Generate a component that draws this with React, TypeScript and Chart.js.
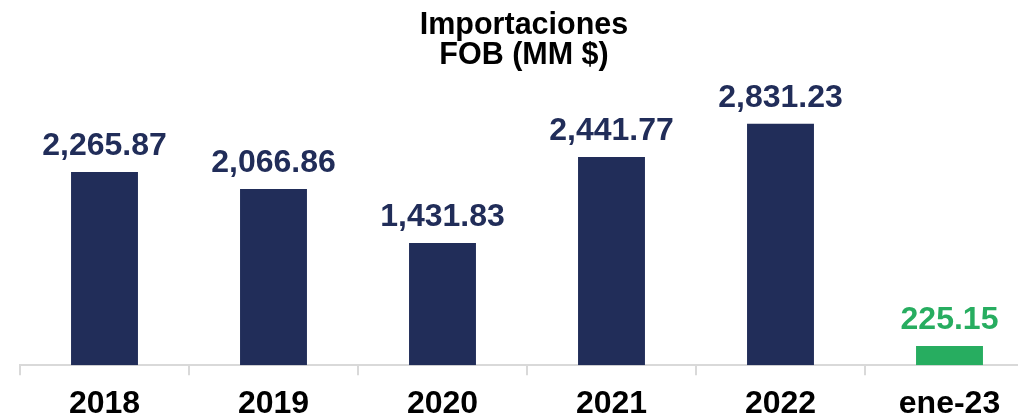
import React, { useEffect, useRef } from "react";
import { Chart, registerables } from "chart.js";

Chart.register(...registerables);

const categories = ["2018", "2019", "2020", "2021", "2022", "ene-23"];
const values = [2265.87, 2066.86, 1431.83, 2441.77, 2831.23, 225.15];
const barColors = ["#212d59", "#212d59", "#212d59", "#212d59", "#212d59", "#27ad60"];
const titleLines = ["Importaciones", "FOB (MM $)"];

const FONT = "'Liberation Sans', Arial, sans-serif";

const fmt = (v: number) =>
  v.toLocaleString("en-US", { minimumFractionDigits: 2, maximumFractionDigits: 2 });

export default function App() {
  const ref = useRef<HTMLCanvasElement | null>(null);

  useEffect(() => {
    if (!ref.current) return;
    const labelPlugin = {
      id: "labels",
      afterDatasetsDraw(chart: any) {
        const ctx = chart.ctx;
        const meta = chart.getDatasetMeta(0);
        ctx.save();
        ctx.font = `bold 32px ${FONT}`;
        ctx.textAlign = "center";
        ctx.textBaseline = "alphabetic";
        meta.data.forEach((bar: any, i: number) => {
          ctx.fillStyle = barColors[i];
          ctx.fillText(fmt(values[i]), bar.x, bar.y - 17);
        });
        ctx.restore();
      },
      afterDraw(chart: any) {
        const ctx = chart.ctx;
        ctx.save();
        ctx.font = `bold 30.5px ${FONT}`;
        ctx.textAlign = "center";
        ctx.textBaseline = "alphabetic";
        ctx.fillStyle = "#000000";
        ctx.fillText(titleLines[0], 524, 34);
        ctx.fillText(titleLines[1], 524, 63.5);
        ctx.restore();
      },
    };
    const chart = new Chart(ref.current, {
      type: "bar",
      data: {
        labels: categories,
        datasets: [
          {
            data: values,
            backgroundColor: barColors,
            categoryPercentage: 1,
            barPercentage: 0.396,
          },
        ],
      },
      options: {
        animation: false,
        responsive: false,
        maintainAspectRatio: false,
        layout: { padding: { top: 24, left: 20, right: 6, bottom: -19 } },
        plugins: { legend: { display: false }, tooltip: { enabled: false }, title: { display: false } },
        scales: {
          x: {
            grid: {
              display: true,
              drawOnChartArea: false,
              drawTicks: true,
              tickLength: 10,
              color: "#d9d9d9",
              lineWidth: 2,
            },
            border: { display: true, color: "#d9d9d9", width: 2 },
            ticks: {
              color: "#000000",
              padding: 15,
              font: { family: FONT, size: 32, weight: "bold", lineHeight: 0.9 },
            },
          },
          y: {
            display: false,
            min: 0,
            max: 4000,
          },
        },
      },
      plugins: [labelPlugin],
    });
    return () => chart.destroy();
  }, []);

  return (
    <div style={{ position: "fixed", left: 0, top: 0, width: 1018, height: 415, overflow: "hidden", background: "#fff" }}>
      <canvas ref={ref} width={1040} height={415} style={{ width: 1040, height: 415, display: "block" }} />
    </div>
  );
}
